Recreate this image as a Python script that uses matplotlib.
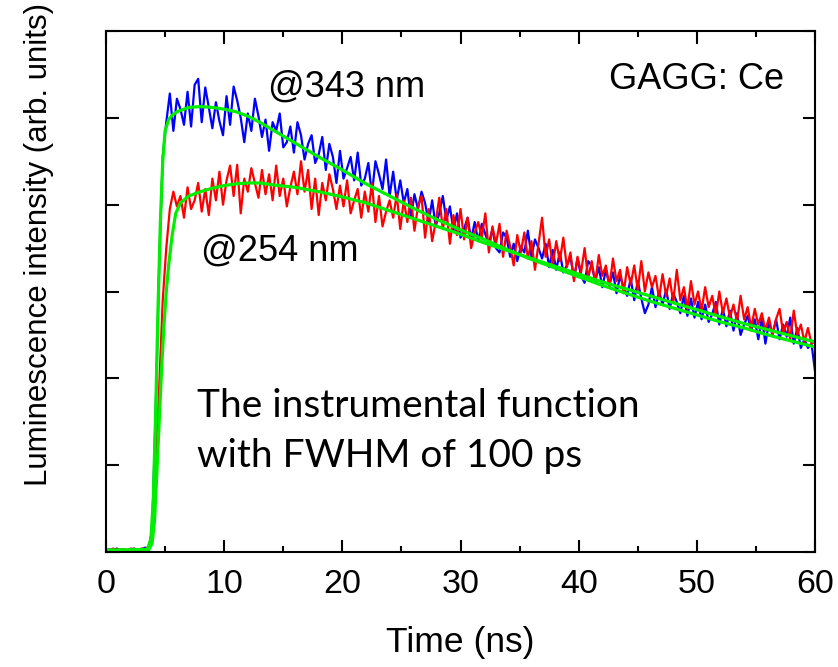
import numpy as np
import matplotlib
matplotlib.use('Agg')
import matplotlib.pyplot as plt
from matplotlib.ticker import MultipleLocator

# time grid of the decay curves (ns), step 0.3
time = np.linspace(0, 60, 201)

# @343 nm excitation (blue)
blue = [0.02, 0.03, 0.02, 0.04, 0.02, 0.03, 0.02, 0.03, 0.04, 0.02, 0.03, 0.05, 0.04,
        0.25, 1.60, 3.30, 4.55, 4.95, 5.28, 4.85, 5.22, 5.10, 4.92, 5.30, 4.90,
        5.38, 5.45, 4.95, 5.35, 5.12, 4.88, 5.18, 4.96, 4.80, 5.25, 4.92, 5.36,
        5.20, 5.00, 4.72, 5.05, 4.85, 5.22, 5.02, 4.78, 4.98, 4.62, 4.95, 4.85,
        5.05, 4.66, 4.72, 4.90, 4.60, 4.95, 4.80, 4.52, 4.70, 4.80, 4.48, 4.58,
        4.78, 4.40, 4.70, 4.55, 4.25, 4.62, 4.30, 4.42, 4.55, 4.28, 4.60, 4.22,
        4.30, 4.48, 4.12, 4.50, 4.35, 4.18, 4.52, 4.10, 4.38, 4.05, 4.28, 4.02,
        4.18, 3.85, 4.12, 3.95, 4.15, 4.02, 3.80, 4.05, 3.75, 3.90, 4.10, 3.82,
        3.98, 3.70, 3.90, 3.62, 3.72, 3.85, 3.60, 3.80, 3.58, 3.78, 3.66, 3.55,
        3.72, 3.50, 3.45, 3.68, 3.62, 3.40, 3.55, 3.35, 3.52, 3.45, 3.70, 3.40,
        3.60, 3.50, 3.38, 3.55, 3.28, 3.48, 3.25, 3.45, 3.22, 3.30, 3.40, 3.15,
        3.38, 3.18, 3.10, 3.35, 3.30, 3.12, 3.28, 3.05, 3.25, 3.08, 3.22, 2.98,
        3.18, 3.05, 2.95, 3.15, 2.90, 3.12, 2.92, 2.75, 2.85, 3.05, 2.82, 3.00,
        2.85, 3.02, 2.80, 2.98, 2.88, 2.75, 2.95, 2.72, 2.92, 2.70, 2.88, 2.68,
        2.85, 2.65, 2.74, 2.88, 2.62, 2.80, 2.60, 2.78, 2.55, 2.75, 2.50, 2.62,
        2.72, 2.55, 2.68, 2.45, 2.70, 2.40, 2.65, 2.50, 2.68, 2.45, 2.62, 2.48,
        2.70, 2.40, 2.58, 2.35, 2.45, 2.35, 2.40, 2.08]

# @254 nm excitation (red)
red = [0.03, 0.02, 0.04, 0.02, 0.03, 0.03, 0.02, 0.04, 0.03, 0.02, 0.04, 0.03, 0.06,
       0.15, 0.90, 1.90, 2.90, 3.50, 3.95, 4.15, 3.98, 4.10, 3.85, 4.20, 3.95,
       4.05, 4.25, 3.92, 4.18, 3.88, 4.30, 4.05, 4.38, 4.00, 4.28, 4.45, 4.10,
       4.46, 3.90, 4.30, 4.15, 4.42, 4.25, 4.08, 4.40, 4.12, 4.35, 4.05, 4.45,
       4.10, 4.30, 3.98, 4.20, 4.38, 4.12, 4.50, 4.15, 4.40, 3.95, 4.30, 3.88,
       4.25, 4.05, 4.35, 4.18, 3.95, 4.22, 3.98, 4.28, 3.90, 4.05, 4.18, 3.85,
       4.15, 3.92, 4.25, 3.80, 4.10, 3.75, 3.92, 4.05, 3.85, 4.12, 3.72, 4.05,
       3.80, 4.08, 3.70, 3.98, 4.10, 3.62, 3.95, 3.58, 3.80, 4.08, 3.72, 3.95,
       3.55, 3.88, 3.65, 3.95, 3.60, 3.85, 3.50, 3.68, 3.80, 3.62, 3.90, 3.45,
       3.75, 3.55, 3.78, 3.40, 3.70, 3.52, 3.30, 3.65, 3.45, 3.68, 3.38, 3.58,
       3.25, 3.55, 3.85, 3.40, 3.60, 3.30, 3.58, 3.35, 3.62, 3.28, 3.45, 3.12,
       3.40, 3.22, 3.50, 3.15, 3.35, 3.10, 3.42, 3.18, 3.30, 3.05, 3.38, 3.12,
       3.25, 2.98, 3.28, 3.08, 3.30, 3.02, 3.35, 3.00, 3.22, 3.05, 3.18, 2.92,
       3.20, 2.95, 3.15, 2.88, 3.25, 2.90, 3.05, 2.80, 3.12, 2.85, 3.00, 2.78,
       3.05, 2.82, 2.95, 2.72, 3.00, 2.75, 2.92, 2.70, 2.85, 2.65, 2.95, 2.68,
       2.82, 2.58, 2.80, 2.62, 2.75, 2.55, 2.70, 2.50, 2.68, 2.80, 2.52, 2.65,
       2.45, 2.78, 2.50, 2.62, 2.42, 2.58, 2.40, 2.42]

# fitted curves (green)
fit_t = [0, 3.5, 3.8, 4.0, 4.2, 4.4, 4.6, 4.8, 5.0, 5.3, 5.6, 6, 7, 8, 9, 10, 11, 12,
         13, 14, 16, 18, 20, 22, 24, 26, 28, 30, 32, 34, 36, 38, 40, 42, 44, 46,
         48, 50, 52, 54, 56, 58, 60]
fit_blue = [0.02, 0.03, 0.15, 0.60, 1.60, 2.80, 3.80, 4.50, 4.85, 4.98, 5.03, 5.07,
            5.12, 5.13, 5.12, 5.10, 5.07, 5.02, 4.95, 4.87, 4.71, 4.55, 4.40, 4.24,
            4.10, 3.96, 3.83, 3.71, 3.60, 3.48, 3.37, 3.27, 3.17, 3.07, 2.98, 2.89,
            2.81, 2.73, 2.65, 2.58, 2.50, 2.43, 2.36]

fit_t2 = [0, 3.6, 3.9, 4.1, 4.3, 4.5, 4.7, 4.9, 5.1, 5.3, 5.6, 5.9, 6.3, 7, 8, 9,
          10, 11, 12, 13, 14, 16, 18, 20, 22, 24, 26, 28, 30, 32, 34, 36, 38, 40,
          42, 44, 46, 48, 50, 52, 54, 56, 58, 60]
fit_red = [0.02, 0.02, 0.10, 0.35, 0.90, 1.50, 2.10, 2.60, 3.00, 3.30, 3.65, 3.90,
           4.02, 4.10, 4.15, 4.19, 4.22, 4.24, 4.25, 4.25, 4.23, 4.20, 4.15, 4.09,
           4.02, 3.93, 3.84, 3.75, 3.66, 3.56, 3.47, 3.38, 3.29, 3.20, 3.11, 3.03,
           2.95, 2.87, 2.79, 2.71, 2.63, 2.56, 2.49, 2.42]

fig = plt.figure(figsize=(8.38, 6.67), dpi=100)
ax = fig.add_axes([0.1265, 0.1724, 0.8461, 0.7811])

ax.plot(time, blue, color='#0000ff', lw=1.6)
ax.plot(time, red, color='#ff0000', lw=1.6)
ax.plot(fit_t, fit_blue, color='#00ee00', lw=2.3)
ax.plot(fit_t2, fit_red, color='#00ee00', lw=2.3)

ax.set_xlim(0, 60)
ax.set_ylim(0, 6)
ax.xaxis.set_major_locator(MultipleLocator(10))
ax.xaxis.set_minor_locator(MultipleLocator(5))
ax.yaxis.set_major_locator(MultipleLocator(1))
ax.set_yticklabels([])
ax.tick_params(axis='both', which='major', direction='in', length=9, width=1.5)
ax.tick_params(axis='x', which='minor', direction='in', length=4.5, width=1.5)
ax.tick_params(axis='y', right=True)
ax.tick_params(axis='x', which='both', top=True)
ax.tick_params(axis='x', pad=12)
for lab in ax.get_xticklabels():
    lab.set_family('Liberation Sans')
    lab.set_fontsize(24.5)
for s in ax.spines.values():
    s.set_linewidth(1.5)

ax.set_xlabel('Time (ns)', family='Liberation Sans', fontsize=25.5, labelpad=19)
fig.text(0.046, 1 - 244 / 667, 'Luminescence intensity (arb. units)', rotation=90,
         ha='center', va='center', family='Liberation Sans', fontsize=22.5)

ax.text(13.7, 5.35, '@343 nm', family='Liberation Sans', fontsize=26, va='center')
ax.text(8.0, 3.47, '@254 nm', family='Liberation Sans', fontsize=26, va='center')
ax.text(42.6, 5.44, 'GAGG: Ce', family='Liberation Sans', fontsize=26, va='center')
ax.text(7.7, 1.68, 'The instrumental function', family='Lato', fontsize=28, va='center')
ax.text(7.7, 1.10, 'with FWHM of 100 ps', family='Lato', fontsize=28, va='center')

fig.savefig('out.png', dpi=100)
